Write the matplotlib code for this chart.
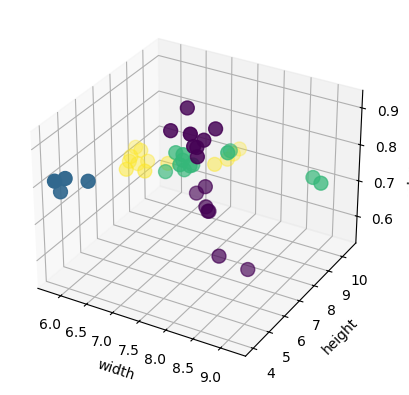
import numpy as np
import matplotlib
matplotlib.use('Agg')
import matplotlib.pyplot as plt
from mpl_toolkits.mplot3d import Axes3D

# fruit measurements
labels = [1,1,1,1,1,1,1,1,1,1,1,1,1,1,1,
          2,2,2,2,
          3,3,3,3,3,3,3,3,3,3,3,3,
          4,4,4,4,4,4,4,4,4,4,4,4,4]
width = [8.4,8.0,7.1,7.4,7.0,7.3,7.6,7.7,7.6,7.5,7.5,7.4,7.5,7.4,7.6,
         6.2,5.8,5.9,5.8,
         9.2,9.0,7.5,7.0,7.1,7.8,7.2,7.1,7.3,7.2,6.8,7.2,
         7.3,7.2,7.3,7.3,5.8,6.0,6.0,5.9,6.0,6.1,6.3,5.9,6.5]
height = [7.3,6.8,7.8,7.0,7.1,7.7,7.3,7.1,7.5,7.6,7.1,7.2,7.5,7.4,7.9,
          4.7,4.3,4.3,4.0,
          9.2,9.4,9.2,7.4,7.5,8.0,7.0,7.6,7.3,7.8,7.4,7.2,
          10.5,9.2,9.7,10.1,8.7,8.2,7.5,8.0,8.4,8.5,7.7,8.1,8.5]
color_score = [0.55,0.59,0.92,0.89,0.88,0.70,0.69,0.69,0.67,0.73,0.83,0.85,0.86,0.84,0.88,
               0.80,0.77,0.81,0.81,
               0.75,0.75,0.77,0.81,0.79,0.82,0.80,0.76,0.79,0.77,0.75,0.82,
               0.72,0.72,0.72,0.72,0.73,0.71,0.72,0.72,0.74,0.71,0.72,0.73,0.72]

fig = plt.figure()
ax = fig.add_subplot(111, projection='3d')
ax.scatter(width, height, color_score, c=labels, marker='o', s=100)
ax.set_xlabel('width')
ax.set_ylabel('height')
ax.set_zlabel('color_score')
fig.savefig('out.png', bbox_inches='tight')
